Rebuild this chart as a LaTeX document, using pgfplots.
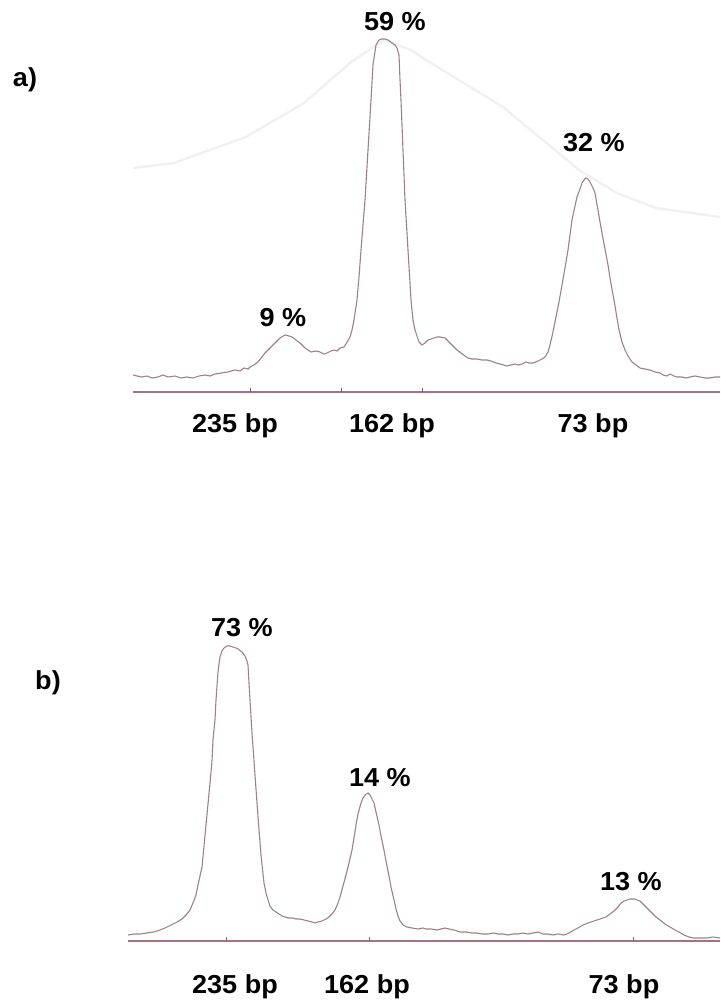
\documentclass[border=0pt]{standalone}
\usepackage{pgfplots}
\pgfplotsset{compat=1.18}
\usepackage{fontspec}
\setmainfont{Liberation Sans}
\definecolor{trace}{RGB}{160,128,134}
\definecolor{axisc}{RGB}{165,115,125}
\definecolor{faint}{RGB}{240,240,240}
\newcommand{\lab}{\fontsize{13}{15}\selectfont\bfseries}
\begin{document}
\begin{tikzpicture}
\useasboundingbox (0,0) rectangle (360pt,501.5pt);
% ---------------- panel a ----------------
\begin{axis}[
  at={(66.5pt,305.5pt)}, anchor=south west,
  x=0.5pt, y=0.5pt,
  xmin=133, xmax=720, ymin=0, ymax=392,
  enlargelimits=false, clip=false,
  axis x line*=bottom, axis y line=none,
  x axis line style={draw=axisc, line width=0.75pt, -},
  xtick={235,392,593}, xticklabels={235 bp,162 bp,73 bp},
  extra x ticks={250,341,422}, extra x tick labels={},
  extra x tick style={major tick length=2pt, tick style={draw=axisc!80!black, line width=0.5pt}},
  major tick length=0pt,
  xticklabel style={font=\lab, anchor=base, yshift=-20.5pt, xscale=1.04},
]
\addplot[faint, line width=1.2pt] coordinates {
(133,224) (174,229) (246,255) (304,289) (350,329) (384,352) (411,342) (426,332)
(503,285) (579,222) (617,199) (656,184) (720,175)};
\addplot[trace, line width=0.55pt] coordinates {
(133,17) (137,16) (142,15) (147,16) (152,14) (158,15) (163,17) (168,15) (175,16)
(181,14) (187,15) (193,14) (199,16) (205,17) (210,16) (215,18) (221,19) (228,20)
(235,22) (240,21) (244,24) (248,23) (250,25) (254,27) (258,30) (262,35) (265,39)
(270,44) (275,49) (280,54) (285,57) (289,56) (292,55) (296,52) (300,49) (305,44)
(311,40) (316,41) (320,40) (324,38) (327,39) (331,41) (334,42) (337,41) (340,44)
(344,45) (346,48) (350,55) (352,62) (354,72) (357,92) (359,115) (361,142) (363,167)
(365,192) (368,242) (371,292) (373,327) (376,347) (379,352) (382,353) (385,353)
(388,352) (392,349) (395,347) (397,344) (399,337) (400,312) (401,292) (403,242)
(405,192) (408,142) (411,92) (413,72) (415,62) (419,50) (422,47) (425,49) (428,52)
(431,53) (434,54) (437,55) (440,55) (445,54) (448,51) (451,48) (454,45) (457,42)
(461,39) (465,36) (468,34) (472,33) (477,33) (482,32) (487,32) (491,31) (496,29)
(500,28) (504,27) (507,26) (511,27) (515,28) (518,27) (522,28) (526,30) (529,29)
(533,29) (538,31) (542,33) (545,35) (548,40) (550,47) (553,60) (556,75) (559,90)
(562,107) (565,124) (568,142) (570,157) (572,172) (575,186) (577,195) (580,203)
(582,209) (584,212) (586,214) (588,213) (590,210) (593,204) (595,199) (598,182)
(600,170) (602,159) (605,143) (608,127) (611,108) (614,92) (616,80) (619,62)
(622,50) (625,42) (628,36) (632,30) (636,27) (640,24) (645,23) (650,22) (655,20)
(660,19) (663,17) (667,16) (670,18) (674,16) (677,15) (682,15) (686,14) (690,15)
(695,16) (700,15) (705,14) (710,14) (715,15) (720,15)};
\node[font=\lab, xscale=1.04] at (axis cs:395,370) {59 \%};
\node[font=\lab, xscale=1.04] at (axis cs:594,249) {32 \%};
\node[font=\lab, xscale=1.04] at (axis cs:283,74) {9 \%};
\node[font=\lab, xscale=1.04] at (axis cs:25,312) {a)};
\end{axis}
% ---------------- panel b ----------------
\begin{axis}[
  at={(64pt,31pt)}, anchor=south west,
  x=0.5pt, y=0.5pt,
  xmin=128, xmax=720, ymin=0, ymax=341,
  enlargelimits=false, clip=false,
  axis x line*=bottom, axis y line=none,
  x axis line style={draw=axisc, line width=0.75pt, -},
  xtick={235,367,624}, xticklabels={235 bp,162 bp,73 bp},
  extra x ticks={227,369,633}, extra x tick labels={},
  extra x tick style={major tick length=2pt, tick style={draw=axisc!80!black, line width=0.5pt}},
  major tick length=0pt,
  xticklabel style={font=\lab, anchor=base, yshift=-26pt, xscale=1.04},
]
\addplot[trace, line width=0.55pt] coordinates {
(128,6) (134,7) (140,7) (147,8) (154,9) (160,11) (165,13) (171,16) (177,19)
(182,22) (186,26) (190,31) (193,38) (196,46) (198,56) (200,65) (202,74) (204,95)
(206,116) (208,137) (210,158) (212,180) (213,201) (215,221) (216,241) (217,255)
(218,269) (219,277) (220,284) (222,290) (224,293) (227,295) (230,295) (233,294)
(236,293) (238,292) (242,289) (245,285) (247,280) (248,276) (249,258) (250,241)
(252,208) (254,180) (255,166) (257,138) (258,124) (260,99) (261,86) (263,67)
(264,58) (266,48) (268,41) (270,35) (273,31) (276,29) (279,27) (282,25) (285,24)
(289,23) (292,23) (296,22) (300,22) (304,21) (308,20) (312,19) (315,18) (318,19)
(322,20) (326,22) (329,24) (332,27) (335,31) (338,38) (340,44) (343,55) (346,66)
(349,78) (352,91) (354,103) (356,116) (358,127) (361,138) (363,143) (365,146)
(368,148) (370,146) (371,144) (373,140) (374,138) (376,129) (379,116) (381,105)
(384,91) (386,80) (389,65) (391,54) (394,41) (396,32) (398,25) (400,20) (403,16)
(407,14) (412,13) (418,12) (423,13) (426,12) (431,12) (437,11) (441,12) (445,13)
(449,12) (454,11) (460,9) (466,9) (472,8) (477,8) (482,7) (488,7) (494,8) (498,7)
(503,7) (508,6) (513,7) (518,7) (523,8) (528,7) (533,8) (538,9) (543,7) (548,7)
(553,6) (558,7) (564,6) (569,8) (574,11) (578,13) (583,16) (588,18) (594,20)
(600,22) (606,24) (610,27) (614,30) (618,34) (621,38) (624,40) (627,41) (630,42)
(632,42) (635,42) (637,41) (640,40) (642,38) (645,35) (649,31) (652,28) (656,24)
(660,21) (665,17) (670,14) (675,11) (679,9) (684,6) (689,4) (694,3) (700,3) (707,3)
(713,4) (720,3)};
\node[font=\lab, xscale=1.04] at (axis cs:242,313) {73 \%};
\node[font=\lab, xscale=1.04] at (axis cs:380,163) {14 \%};
\node[font=\lab, xscale=1.04] at (axis cs:631,59) {13 \%};
\node[font=\lab, xscale=1.04] at (axis cs:48,258) {b)};
\end{axis}
\end{tikzpicture}
\end{document}
